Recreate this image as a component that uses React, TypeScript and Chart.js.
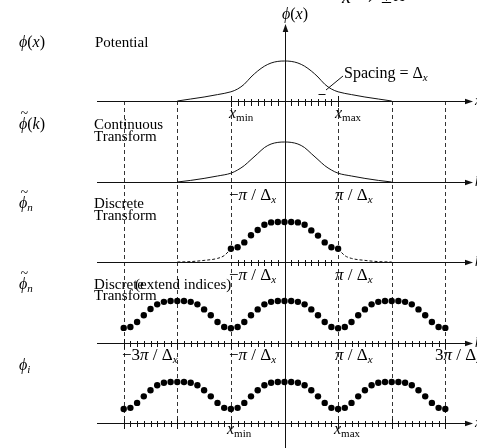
import React, { useEffect, useRef } from "react";
import { Chart, registerables } from "chart.js";

Chart.register(...registerables);

const W = 477;
const H = 448;

// x is measured in units of π/Δx (= x_max for the top row)
const curveK = [-2, -1.75, -1.5, -1.25, -1, -0.875, -0.75, -0.625, -0.5, -0.375, -0.25, -0.125, 0,
  0.125, 0.25, 0.375, 0.5, 0.625, 0.75, 0.875, 1, 1.25, 1.5, 1.75, 2];
const potentialVals = [0, 0.05, 0.1, 0.16, 0.23, 0.3, 0.42, 0.6, 0.75, 0.87, 0.95, 0.99, 1,
  0.99, 0.95, 0.87, 0.75, 0.6, 0.42, 0.3, 0.23, 0.16, 0.1, 0.05, 0];
const continuousVals = [0, 0.04, 0.09, 0.15, 0.22, 0.3, 0.41, 0.56, 0.71, 0.86, 0.95, 0.99, 1,
  0.99, 0.95, 0.86, 0.71, 0.56, 0.41, 0.3, 0.22, 0.15, 0.09, 0.04, 0];

const discreteK = [-1, -0.875, -0.75, -0.625, -0.5, -0.375, -0.25, -0.125, 0,
  0.125, 0.25, 0.375, 0.5, 0.625, 0.75, 0.875, 1];
const discreteVals = [0.33, 0.37, 0.49, 0.67, 0.8, 0.93, 0.99, 1, 1, 1, 0.99, 0.93, 0.79, 0.66, 0.49, 0.37, 0.33];

const tailLeftK = [-2, -1.75, -1.5, -1.25, -1.125, -1];
const tailLeftVals = [0, 0.01, 0.04, 0.09, 0.16, 0.33];
const tailRightK = [1, 1.125, 1.25, 1.5, 1.75, 2];
const tailRightVals = [0.33, 0.16, 0.09, 0.04, 0.01, 0];

// extended indices: n = -24 .. 24 (k = n/8 in units of π/Δx)
const extendedVals = [
  0.36, 0.38, 0.5, 0.66, 0.81, 0.92, 0.98, 1, 1, 1, 0.98, 0.92, 0.8, 0.66, 0.5, 0.38,
  0.35, 0.38, 0.5, 0.66, 0.8, 0.92, 0.98, 1, 1, 1, 0.98, 0.92, 0.8, 0.66, 0.5, 0.38,
  0.35, 0.38, 0.5, 0.66, 0.8, 0.92, 0.98, 1, 1, 1, 0.98, 0.92, 0.8, 0.66, 0.5, 0.38,
  0.36,
];
const realSpaceVals = [
  0.34, 0.37, 0.49, 0.65, 0.8, 0.92, 0.98, 1, 1, 1, 0.98, 0.92, 0.8, 0.65, 0.49, 0.37,
  0.34, 0.37, 0.49, 0.65, 0.8, 0.92, 0.98, 1, 1, 1, 0.98, 0.92, 0.8, 0.65, 0.49, 0.37,
  0.34, 0.37, 0.49, 0.65, 0.8, 0.92, 0.98, 1, 1, 1, 0.98, 0.92, 0.8, 0.65, 0.49, 0.37,
  0.34,
];
const extendedN = extendedVals.map((_, i) => i - 24);

const guideLines = [-3, -2, -1, 1, 2, 3];

// layout (pixels)
const CENTER_PX = 284.5;
const UNIT_PX = 53.6;
const X_MIN = -CENTER_PX / UNIT_PX;
const X_MAX = (W - CENTER_PX) / UNIT_PX;
const ROW_BASE = [101, 182, 262, 343, 423];
const ROW_AMP = [40, 40, 40, 42, 41];

const SERIF = '"Liberation Serif", "Times New Roman", "DejaVu Serif", serif';
const F = (size: number, italic = false) => `${italic ? "italic " : ""}${size}px ${SERIF}`;

type Run = { t: string; font: string; dy?: number; dx?: number; noAdvance?: boolean };

function drawRuns(ctx: CanvasRenderingContext2D, x: number, y: number, runs: Run[]) {
  let cx = x;
  for (const r of runs) {
    ctx.font = r.font;
    ctx.fillText(r.t, cx + (r.dx || 0), y + (r.dy || 0));
    if (!r.noAdvance) cx += ctx.measureText(r.t).width + (r.dx || 0);
  }
}

const phi = (size = 16): Run => ({ t: "\u03d5", font: F(size, true) });
const tilde = (): Run => ({ t: "~", font: F(14), dx: 1.5, dy: -11, noAdvance: true });
const piOver = (prefix: string): Run[] => [
  { t: prefix, font: F(17) },
  { t: "\u03c0", font: F(17, true) },
  { t: " / ", font: F(17) },
  { t: "\u0394", font: F(17) },
  { t: "x", font: F(11, true), dy: 3 },
];
const xSub = (sub: string): Run[] => [
  { t: "x", font: F(16, true) },
  { t: sub, font: F(11), dy: 3 },
];

const diagramPlugin = {
  id: "diagram",
  beforeDatasetsDraw(chart: any) {
    const ctx: CanvasRenderingContext2D = chart.ctx;
    const xs = chart.scales.x;
    const px = (u: number) => Math.round(xs.getPixelForValue(u)) + 0.5;
    ctx.save();
    ctx.strokeStyle = "#111";
    ctx.fillStyle = "#111";
    ctx.lineWidth = 1;

    // dashed guide lines
    ctx.setLineDash([4, 3]);
    ctx.strokeStyle = "#333";
    for (const u of guideLines) {
      ctx.beginPath();
      ctx.moveTo(px(u), ROW_BASE[0]);
      ctx.lineTo(px(u), 429);
      ctx.stroke();
    }
    ctx.setLineDash([]);
    ctx.strokeStyle = "#111";

    // horizontal axes with arrows
    for (const b of ROW_BASE) {
      const y = b + 0.5;
      ctx.beginPath();
      ctx.moveTo(97, y);
      ctx.lineTo(466, y);
      ctx.stroke();
      ctx.beginPath();
      ctx.moveTo(473, y);
      ctx.lineTo(465, y - 2.8);
      ctx.lineTo(465, y + 2.8);
      ctx.closePath();
      ctx.fill();
    }

    // vertical axis
    const cx = px(0);
    ctx.beginPath();
    ctx.moveTo(cx, H);
    ctx.lineTo(cx, 31);
    ctx.stroke();
    ctx.beginPath();
    ctx.moveTo(cx, 24);
    ctx.lineTo(cx - 2.8, 32);
    ctx.lineTo(cx + 2.8, 32);
    ctx.closePath();
    ctx.fill();

    // tick marks
    const tick = (u: number, b: number, up: number, down: number) => {
      ctx.beginPath();
      ctx.moveTo(px(u), b - up);
      ctx.lineTo(px(u), b + down);
      ctx.stroke();
    };
    for (let n = -7; n <= 7; n++) {
      if (n === 0) continue;
      tick(n / 8, ROW_BASE[0], 2, 5);
      tick(n / 8, ROW_BASE[2], 2, 4);
    }
    tick(-1, ROW_BASE[0], 5, 6);
    tick(1, ROW_BASE[0], 5, 6);
    for (let n = -24; n <= 24; n++) {
      if (n === 0) continue;
      const major = n % 8 === 0;
      tick(n / 8, ROW_BASE[3], major ? 4 : 2, major ? 6 : 4);
      tick(n / 8, ROW_BASE[4], major ? 4 : 2, major ? 6 : 4);
    }

    // spacing pointer
    ctx.beginPath();
    ctx.moveTo(343, 76);
    ctx.lineTo(326, 90);
    ctx.stroke();
    ctx.beginPath();
    ctx.moveTo(px(0.625), 94.5);
    ctx.lineTo(px(0.75), 94.5);
    ctx.stroke();
    ctx.restore();
  },
  afterDatasetsDraw(chart: any) {
    const ctx: CanvasRenderingContext2D = chart.ctx;
    ctx.save();
    ctx.fillStyle = "#000";
    ctx.textBaseline = "alphabetic";
    ctx.textAlign = "left";

    // top
    drawRuns(ctx, 342, 3, [
      { t: "x", font: F(20, true) },
      { t: " \u2192 \u00b1\u221e", font: F(20) },
    ]);
    drawRuns(ctx, 282, 19, [phi(16), { t: "(", font: F(16) }, { t: "x", font: F(16, true) }, { t: ")", font: F(16) }]);

    // left symbols
    drawRuns(ctx, 19, 47, [phi(16), { t: "(", font: F(16) }, { t: "x", font: F(16, true) }, { t: ")", font: F(16) }]);
    drawRuns(ctx, 19, 129, [tilde(), phi(16), { t: "(", font: F(16) }, { t: "k", font: F(16, true) }, { t: ")", font: F(16) }]);
    drawRuns(ctx, 19, 208, [tilde(), phi(16), { t: "n", font: F(11, true), dy: 3 }]);
    drawRuns(ctx, 19, 289, [tilde(), phi(16), { t: "n", font: F(11, true), dy: 3 }]);
    drawRuns(ctx, 19, 370, [phi(16), { t: "i", font: F(11, true), dy: 3 }]);

    // descriptions
    const body = F(15);
    drawRuns(ctx, 95, 47, [{ t: "Potential", font: body }]);
    drawRuns(ctx, 94, 129, [{ t: "Continuous", font: body }]);
    drawRuns(ctx, 94, 141, [{ t: "Transform", font: body }]);
    drawRuns(ctx, 94, 208, [{ t: "Discrete", font: body }]);
    drawRuns(ctx, 94, 220, [{ t: "Transform", font: body }]);
    drawRuns(ctx, 94, 289, [{ t: "Discrete", font: body }]);
    drawRuns(ctx, 135, 289, [{ t: "(extend indices)", font: body }]);
    drawRuns(ctx, 94, 300, [{ t: "Transform", font: body }]);

    // axis labels
    drawRuns(ctx, 229, 118, xSub("min"));
    drawRuns(ctx, 335, 118, xSub("max"));
    drawRuns(ctx, 229, 200, piOver("\u2212"));
    drawRuns(ctx, 335, 200, piOver(""));
    drawRuns(ctx, 229, 280, piOver("\u2212"));
    drawRuns(ctx, 335, 280, piOver(""));
    drawRuns(ctx, 122, 360, piOver("\u22123"));
    drawRuns(ctx, 229, 360, piOver("\u2212"));
    drawRuns(ctx, 335, 360, piOver(""));
    drawRuns(ctx, 435, 360, piOver("3"));
    drawRuns(ctx, 227, 434, xSub("min"));
    drawRuns(ctx, 334, 434, xSub("max"));

    drawRuns(ctx, 344, 78, [
      { t: "Spacing = ", font: F(16) },
      { t: "\u0394", font: F(16) },
      { t: "x", font: F(11, true), dy: 3 },
    ]);

    // right-edge axis names (mostly clipped)
    const ends = ["x", "k", "k", "k", "x"];
    ends.forEach((t, i) => drawRuns(ctx, 475, ROW_BASE[i] + 4, [{ t, font: F(14, true) }]));
    ctx.restore();
  },
};

const toPts = (ks: number[], vals: number[], row: number) =>
  ks.map((k, i) => ({ x: k, y: ROW_BASE[row] - ROW_AMP[row] * vals[i] }));

export default function App() {
  const ref = useRef<HTMLCanvasElement>(null);
  useEffect(() => {
    const canvas = ref.current;
    if (!canvas) return;
    const lineDs = (data: any[], dash: number[] = []) => ({
      data,
      showLine: true,
      borderColor: "#111",
      borderWidth: 1,
      borderDash: dash,
      pointRadius: 0,
      pointHoverRadius: 0,
      cubicInterpolationMode: "monotone" as const,
      fill: false,
    });
    const dotDs = (data: any[]) => ({
      data,
      showLine: false,
      pointRadius: 3.2,
      pointHoverRadius: 3.2,
      pointBackgroundColor: "#000",
      pointBorderWidth: 0,
      borderColor: "#000",
    });
    const chart = new Chart(canvas, {
      type: "scatter",
      data: {
        datasets: [
          lineDs(toPts(curveK, potentialVals, 0)),
          lineDs(toPts(curveK, continuousVals, 1)),
          lineDs(toPts(tailLeftK, tailLeftVals, 2), [3, 2]),
          lineDs(toPts(tailRightK, tailRightVals, 2), [3, 2]),
          dotDs(toPts(discreteK, discreteVals, 2)),
          dotDs(toPts(extendedN.map((n) => n / 8), extendedVals, 3)),
          dotDs(toPts(extendedN.map((n) => n / 8), realSpaceVals, 4)),
        ] as any,
      },
      options: {
        responsive: false,
        animation: false,
        devicePixelRatio: 1,
        events: [],
        layout: { padding: 0, autoPadding: false },
        plugins: {
          legend: { display: false },
          tooltip: { enabled: false },
          title: { display: false },
        },
        scales: {
          x: { type: "linear", display: false, min: X_MIN, max: X_MAX },
          y: { type: "linear", display: false, min: 0, max: H, reverse: true },
        },
      } as any,
      plugins: [diagramPlugin],
    });
    return () => chart.destroy();
  }, []);
  return (
    <div style={{ position: "absolute", left: 0, top: 0, width: W, height: H, background: "#fff" }}>
      <canvas ref={ref} width={W} height={H} style={{ display: "block", width: W, height: H }} />
    </div>
  );
}
